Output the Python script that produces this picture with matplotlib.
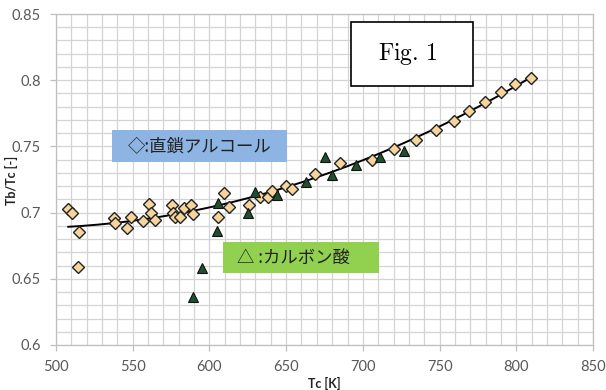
import numpy as np
import matplotlib
matplotlib.use("Agg")
import matplotlib.pyplot as plt
from matplotlib.patches import Rectangle
from matplotlib.ticker import MultipleLocator

# Straight-chain alcohols: Tc [K], Tb/Tc [-]
alcohol_tc = [508.0, 510.6, 515.2, 514.1, 537.6, 538.5, 546.3, 548.9, 556.9, 560.8,
              561.9, 564.7, 575.6, 576.5, 577.4, 580.8, 583.4, 587.8, 589.1, 605.8,
              609.7, 612.8, 626.0, 633.0, 638.0, 640.6, 649.9, 653.6, 668.8, 685.1,
              705.8, 720.3, 734.7, 747.7, 759.5, 769.4, 779.7, 789.9, 799.2, 809.6]
alcohol_ratio = [0.7025, 0.6995, 0.6853, 0.6591, 0.6957, 0.6919, 0.6886, 0.6965, 0.6939, 0.7065,
                 0.6999, 0.6944, 0.7060, 0.6999, 0.6965, 0.6969, 0.7033, 0.7057, 0.6989, 0.6969,
                 0.7146, 0.7040, 0.7057, 0.7120, 0.7116, 0.7166, 0.7201, 0.7176, 0.7292, 0.7377,
                 0.7397, 0.7478, 0.7548, 0.7624, 0.7692, 0.7770, 0.7838, 0.7909, 0.7969, 0.8014]

# Carboxylic acids: Tc [K], Tb/Tc [-]
acid_tc = [589.1, 595.4, 604.8, 605.4, 625.4, 629.7, 644.3, 663.0, 675.4, 679.7,
           695.6, 711.2, 726.9]
acid_ratio = [0.6365, 0.6580, 0.6860, 0.7070, 0.6995, 0.7158, 0.7133, 0.7233, 0.7418, 0.7284,
              0.7360, 0.7418, 0.7468]

x_ticks = [500, 550, 600, 650, 700, 750, 800, 850]
y_ticks = [0.6, 0.65, 0.7, 0.75, 0.8, 0.85]
y_tick_labels = ["0.6", "0.65", "0.7", "0.75", "0.8", "0.85"]

W, H = 606, 390
fig = plt.figure(figsize=(W / 100, H / 100), dpi=100)
ax = fig.add_axes([56 / W, 1 - 345 / H, (593 - 56) / W, (345 - 14) / H])

grid_c = "#d4d4d4"
ax.set_xlim(500, 850)
ax.set_ylim(0.6, 0.85)
ax.xaxis.set_major_locator(MultipleLocator(50))
ax.xaxis.set_minor_locator(MultipleLocator(10))
ax.yaxis.set_major_locator(MultipleLocator(0.05))
ax.yaxis.set_minor_locator(MultipleLocator(0.01))
ax.set_xticks(x_ticks)
ax.set_yticks(y_ticks)
ax.set_yticklabels(y_tick_labels)
ax.grid(which="both", color=grid_c, linewidth=0.9)
ax.set_axisbelow(True)
for s in ax.spines.values():
    s.set_color("#bfbfbf")
    s.set_linewidth(0.9)
ax.tick_params(which="major", direction="out", length=4, width=0.9, color="#bfbfbf",
               labelsize=10.5, labelcolor="#595959", pad=7)
ax.tick_params(which="minor", length=0)
for lab in ax.get_xticklabels() + ax.get_yticklabels():
    lab.set_family(["Lato", "DejaVu Sans"])

# quadratic trend line over the alcohol series
coef = np.polyfit(alcohol_tc, alcohol_ratio, 2)
xs = np.linspace(min(alcohol_tc), max(alcohol_tc), 200)
ax.plot(xs, np.polyval(coef, xs), color="black", linewidth=1.4, zorder=2)

ax.plot(alcohol_tc, alcohol_ratio, linestyle="none", marker="D", markersize=6.5,
        markerfacecolor="#f6d49c", markeredgecolor="#222222", markeredgewidth=1.0, zorder=3)
ax.plot(acid_tc, acid_ratio, linestyle="none", marker="^", markersize=7.5,
        markerfacecolor="#1f4f2e", markeredgecolor="#111111", markeredgewidth=0.8, zorder=4)

ax.set_xlabel("Tc [K]", fontsize=9, fontweight="bold", family=["Lato", "DejaVu Sans"],
              labelpad=2, color="#222222")
fig.text(11 / W, 1 - 180 / H, "Tb/Tc [-]", fontsize=9, fontweight="bold",
         family=["Lato", "DejaVu Sans"], color="#222222", rotation=90,
         ha="center", va="center")


def fig_box(x0, y0, x1, y1, face, edge=None, lw=0.0):
    r = Rectangle((x0 / W, 1 - y1 / H), (x1 - x0) / W, (y1 - y0) / H,
                  transform=fig.transFigure, facecolor=face,
                  edgecolor=edge if edge else face, linewidth=lw, zorder=5)
    fig.patches.append(r)


jp = ["Noto Sans CJK JP", "DejaVu Sans"]
fig_box(112, 130, 287, 162, "#8db4e2")
fig.text(200 / W, 1 - 146 / H, "◇:直鎖アルコール", family=jp, fontsize=12.5,
         color="#222222", ha="center", va="center", zorder=6)

fig_box(223, 242, 379, 273, "#92d050")
fig.text(293 / W, 1 - 257.5 / H, "△ :カルボン酸", family=jp, fontsize=12.5,
         color="#222222", ha="center", va="center", zorder=6)

plt.rcParams["mathtext.fontset"] = "cm"
fig_box(351, 22, 473, 86, "white", edge="black", lw=1.2)
fig.text(408 / W, 1 - 54 / H, r"$\mathrm{Fig.\,1}$", fontsize=17,
         color="black", ha="center", va="center", zorder=6)

fig.savefig("out.png", dpi=100)
